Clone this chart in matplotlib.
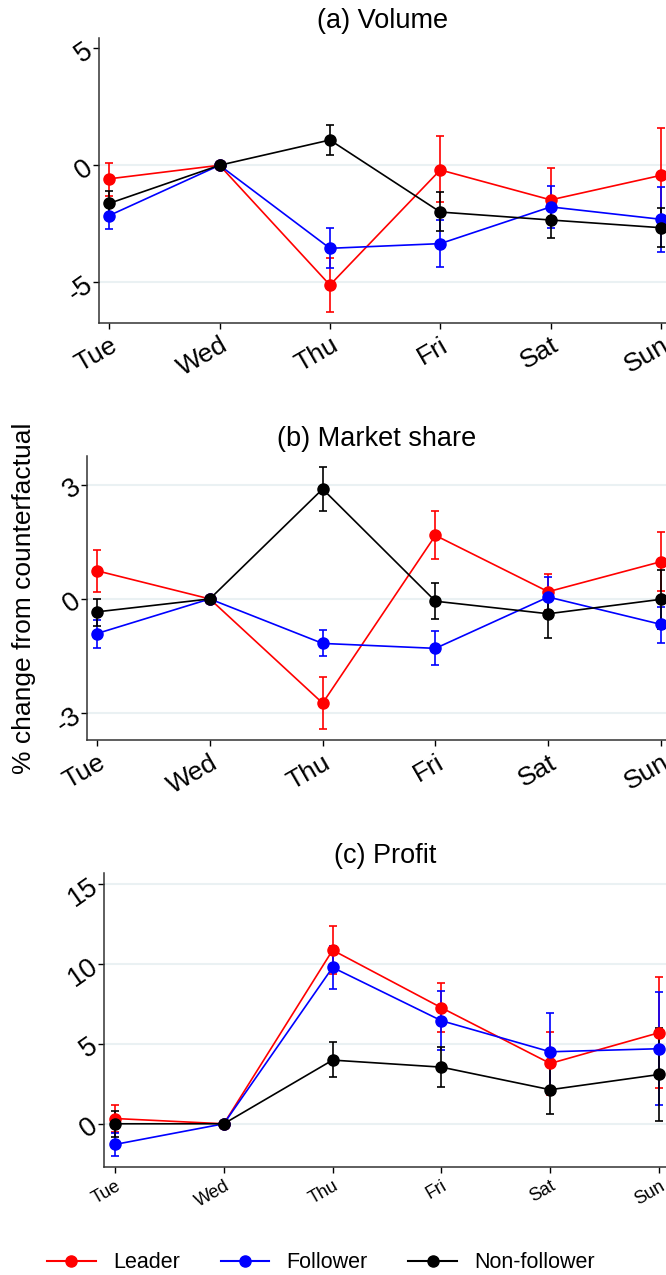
import matplotlib
matplotlib.use("Agg")
import matplotlib.pyplot as plt
from matplotlib.lines import Line2D

plt.rcParams["font.family"] = ["Liberation Sans", "DejaVu Sans"]

DAYS = ["Tue", "Wed", "Thu", "Fri", "Sat", "Sun"]
GROUPS = ["Leader", "Follower", "Non-follower"]
COLORS = {"Leader": "#ff0000", "Follower": "#0000ff", "Non-follower": "#000000"}

# (a) Volume: point estimate, lower CI, upper CI
vol_est = {
    "Leader": [-0.58, 0.0, -5.12, -0.20, -1.48, -0.43],
    "Follower": [-2.15, 0.0, -3.55, -3.35, -1.78, -2.31],
    "Non-follower": [-1.63, 0.0, 1.08, -2.00, -2.34, -2.67],
}
vol_lo = {
    "Leader": [-1.31, 0.0, -6.26, -1.57, -2.48, -2.46],
    "Follower": [-2.74, 0.0, -4.41, -4.34, -2.68, -3.69],
    "Non-follower": [-2.17, 0.0, 0.44, -2.81, -3.11, -3.51],
}
vol_hi = {
    "Leader": [0.11, 0.0, -3.95, 1.23, -0.10, 1.60],
    "Follower": [-1.56, 0.0, -2.70, -2.34, -0.88, -0.94],
    "Non-follower": [-1.08, 0.0, 1.73, -1.16, -1.57, -1.81],
}

# (b) Market share
ms_est = {
    "Leader": [0.74, 0.0, -2.74, 1.67, 0.19, 0.98],
    "Follower": [-0.91, 0.0, -1.17, -1.30, 0.05, -0.67],
    "Non-follower": [-0.34, 0.0, 2.89, -0.06, -0.39, -0.01],
}
ms_lo = {
    "Leader": [0.18, 0.0, -3.42, 1.05, -0.28, 0.22],
    "Follower": [-1.28, 0.0, -1.50, -1.75, -0.46, -1.15],
    "Non-follower": [-0.70, 0.0, 2.32, -0.52, -1.03, -0.79],
}
ms_hi = {
    "Leader": [1.28, 0.0, -2.05, 2.30, 0.66, 1.75],
    "Follower": [-0.55, 0.0, -0.83, -0.84, 0.57, -0.20],
    "Non-follower": [0.01, 0.0, 3.48, 0.41, 0.25, 0.77],
}

# (c) Profit
pr_est = {
    "Leader": [0.33, 0.0, 10.85, 7.25, 3.77, 5.69],
    "Follower": [-1.29, 0.0, 9.77, 6.44, 4.50, 4.69],
    "Non-follower": [0.0, 0.0, 3.98, 3.54, 2.13, 3.08],
}
pr_lo = {
    "Leader": [-0.50, 0.0, 9.35, 5.75, 1.80, 2.23],
    "Follower": [-2.02, 0.0, 8.42, 4.58, 2.10, 1.17],
    "Non-follower": [-0.80, 0.0, 2.90, 2.29, 0.60, 0.19],
}
pr_hi = {
    "Leader": [1.19, 0.0, 12.35, 8.77, 5.71, 9.19],
    "Follower": [-0.56, 0.0, 11.10, 8.29, 6.90, 8.23],
    "Non-follower": [0.79, 0.0, 5.10, 4.80, 3.60, 6.00],
}

GRID_COLOR = "#eaf1f3"


def draw_panel(ax, est, lo, hi, title, yticks, grid_ticks, ylim, xlim, xfont):
    x = list(range(len(DAYS)))
    for g in GROUPS:
        c = COLORS[g]
        e = est[g]
        yerr = [[e[i] - lo[g][i] for i in x], [hi[g][i] - e[i] for i in x]]
        ax.errorbar(x, e, yerr=yerr, fmt="none", ecolor=c, elinewidth=1.2,
                    capsize=3.2, capthick=1.2, zorder=2)
        ax.plot(x, e, color=c, lw=1.2, marker="o", ms=8, zorder=3)
    for gy in grid_ticks:
        ax.axhline(gy, color=GRID_COLOR, lw=1.5, zorder=0)
    ax.set_xlim(*xlim)
    ax.set_ylim(*ylim)
    ax.set_yticks(yticks)
    ax.set_yticklabels([f"{v:g}" for v in yticks], rotation=35, fontsize=19.5,
                       va="center", ha="right", rotation_mode="anchor")
    ax.set_xticks(x)
    ax.set_xticklabels(DAYS, rotation=30, fontsize=xfont, ha="right",
                       rotation_mode="anchor")
    ax.tick_params(axis="both", length=4, width=1, direction="out")
    ax.tick_params(axis="y", pad=2)
    ax.spines["top"].set_visible(False)
    ax.spines["right"].set_visible(False)
    for s in ("left", "bottom"):
        ax.spines[s].set_color("#333333")
        ax.spines[s].set_linewidth(1.1)
    ax.set_title(title, fontsize=19.5, pad=7)


fig = plt.figure(figsize=(6.66, 12.75), dpi=100)

ax_a = fig.add_axes([0.1482, 0.7469, 0.8518, 0.2233])
draw_panel(ax_a, vol_est, vol_lo, vol_hi, "(a) Volume", [-5, 0, 5], [-5, 0],
           (-6.73, 5.44), (-0.095, 5.045), 19)

ax_b = fig.add_axes([0.1306, 0.4196, 0.8694, 0.2228])
draw_panel(ax_b, ms_est, ms_lo, ms_hi, "(b) Market share", [-3, 0, 3], [-3, 0, 3],
           (-3.71, 3.76), (-0.089, 5.044), 19)
ax_b.set_ylabel("% change from counterfactual", fontsize=19)
ax_b.yaxis.set_label_coords(-0.088, 0.5)

ax_c = fig.add_axes([0.1557, 0.0847, 0.8443, 0.2306])
draw_panel(ax_c, pr_est, pr_lo, pr_hi, "(c) Profit", [0, 5, 10, 15], [0, 5, 10, 15],
           (-2.7, 15.67), (-0.104, 5.064), 13)

handles = [Line2D([0], [0], color=COLORS[g], lw=1.5, marker="o", ms=8) for g in GROUPS]
fig.legend(handles, GROUPS, loc="center", bbox_to_anchor=(0.482, 1 - 1263 / 1275),
           ncol=3, frameon=False, fontsize=15.5, handlelength=2.25,
           columnspacing=1.9, handletextpad=0.8)

fig.savefig("out.png", dpi=100)
